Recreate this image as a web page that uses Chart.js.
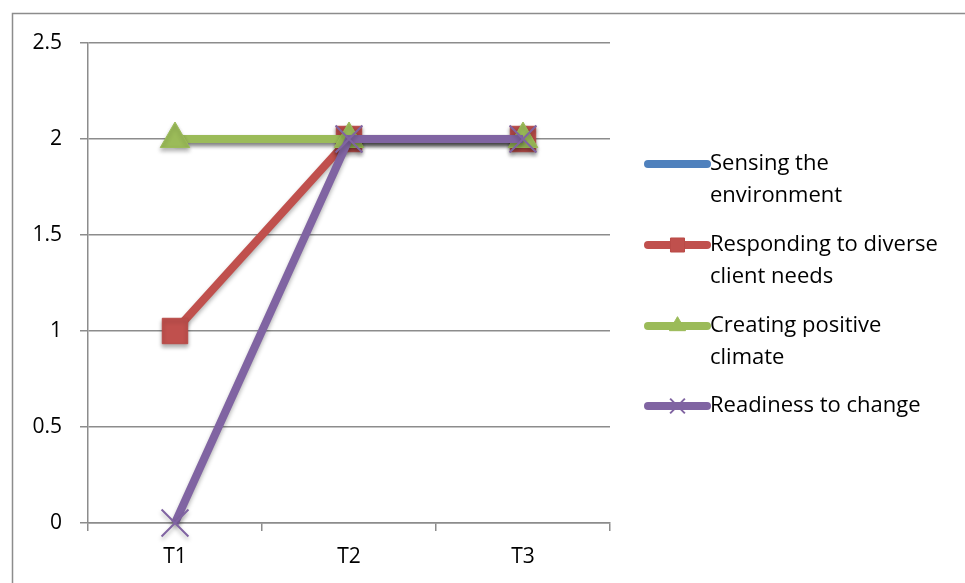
<!DOCTYPE html>
<html>
<head>
<meta charset="utf-8">
<script src="https://cdn.jsdelivr.net/npm/chart.js@4/dist/chart.umd.min.js"></script>
<style>
  html, body { margin: 0; padding: 0; background: #fff; }
  #wrap { position: relative; width: 965px; height: 583px; }
</style>
</head>
<body>
<div id="wrap"><canvas id="c" width="965" height="583"></canvas></div>
<script>
// Time points and scores per dimension
const categories = ['T1', 'T2', 'T3'];
const sensingEnv = [2, 2, 2];
const respondingNeeds = [1, 2, 2];
const positiveClimate = [2, 2, 2];
const readinessChange = [0, 2, 2];
const yTicks = [0, 0.5, 1, 1.5, 2, 2.5];

const seriesNames = [
  ['Sensing the', 'environment'],
  ['Responding to diverse', 'client needs'],
  ['Creating positive', 'climate'],
  ['Readiness to change']
];

const FONT = '"Open Sans", "Liberation Sans", sans-serif';
const GRID = '#8c8c8c';

// outer frame around the chart object
const framePlugin = {
  id: 'frame',
  beforeDraw(chart) {
    const ctx = chart.ctx;
    ctx.save();
    ctx.strokeStyle = GRID;
    ctx.lineWidth = 1.5;
    ctx.strokeRect(12.5, 13.5, 1200, 1200);
    ctx.restore();
  }
};

// soft drop shadow under series lines and markers
const shadowPlugin = {
  id: 'shadow',
  beforeDatasetsDraw(chart) {
    const ctx = chart.ctx;
    ctx.save();
    ctx.shadowColor = 'rgba(0,0,0,0.30)';
    ctx.shadowBlur = 4;
    ctx.shadowOffsetX = 0;
    ctx.shadowOffsetY = 3;
  },
  afterDatasetsDraw(chart) {
    chart.ctx.restore();
  }
};

// legend on the right with wrapped labels
const sideLegend = {
  id: 'sideLegend',
  afterDraw(chart) {
    const ctx = chart.ctx;
    const x0 = 648, x1 = 707, tx = 710;
    const firstY = [164, 245, 326, 406];
    const lineGap = 32;
    ctx.save();
    chart.data.datasets.forEach((ds, i) => {
      const y = firstY[i];
      ctx.strokeStyle = ds.borderColor;
      ctx.lineWidth = 8;
      ctx.lineCap = 'round';
      ctx.beginPath();
      ctx.moveTo(x0, y);
      ctx.lineTo(x1, y);
      ctx.stroke();
      if (ds.pointStyle && ds.pointRadius > 0) {
        ctx.fillStyle = ds.pointBackgroundColor;
        ctx.strokeStyle = ds.pointBorderColor;
        ctx.lineWidth = ds.pointBorderWidth;
        ctx.lineCap = 'butt';
        Chart.helpers.drawPoint(ctx, {
          pointStyle: ds.pointStyle,
          radius: ds.pointRadius * 0.55,
          rotation: 0,
          borderWidth: ds.pointBorderWidth
        }, (x0 + x1) / 2, y);
      }
      ctx.fillStyle = '#000';
      ctx.font = '22px ' + FONT;
      ctx.textAlign = 'left';
      ctx.textBaseline = 'middle';
      seriesNames[i].forEach((t, k) => ctx.fillText(t, tx, y + k * lineGap));
    });
    ctx.restore();
  }
};

new Chart(document.getElementById('c'), {
  type: 'line',
  data: {
    labels: categories,
    datasets: [
      {
        label: seriesNames[0].join(' '),
        data: sensingEnv,
        borderColor: '#4F81BD',
        backgroundColor: '#4F81BD',
        borderWidth: 8,
        pointRadius: 0,
        pointStyle: false,
        order: 4
      },
      {
        label: seriesNames[1].join(' '),
        data: respondingNeeds,
        borderColor: '#C0504D',
        backgroundColor: '#C0504D',
        pointBackgroundColor: '#C0504D',
        pointBorderColor: '#B94A47',
        pointBorderWidth: 1,
        borderWidth: 8,
        pointStyle: 'rect',
        pointRadius: 18,
        pointHoverRadius: 18,
        order: 3
      },
      {
        label: seriesNames[2].join(' '),
        data: positiveClimate,
        borderColor: '#9BBB59',
        backgroundColor: '#9BBB59',
        pointBackgroundColor: '#9BBB59',
        pointBorderColor: '#9BBB59',
        pointBorderWidth: 1,
        borderWidth: 8,
        pointStyle: 'triangle',
        pointRadius: 17,
        pointHoverRadius: 17,
        order: 2
      },
      {
        label: seriesNames[3].join(' '),
        data: readinessChange,
        borderColor: '#8064A2',
        backgroundColor: '#8064A2',
        pointBackgroundColor: '#8064A2',
        pointBorderColor: '#8064A2',
        pointBorderWidth: 2,
        borderWidth: 8,
        pointStyle: 'crossRot',
        pointRadius: 19,
        pointHoverRadius: 19,
        order: 1
      }
    ]
  },
  options: {
    responsive: false,
    animation: false,
    clip: false,
    layout: { padding: { left: 0, right: 355, top: 43, bottom: 0 } },
    plugins: {
      legend: { display: false },
      tooltip: { enabled: false }
    },
    scales: {
      x: {
        offset: true,
        grid: {
          offset: true,
          drawOnChartArea: false,
          drawTicks: true,
          tickLength: 8,
          color: GRID,
          lineWidth: 1.5
        },
        border: { display: true, color: GRID, width: 1.5 },
        ticks: {
          color: '#000',
          font: { family: FONT, size: 21 },
          padding: 13
        },
        afterFit(s) { s.height = 60; }
      },
      y: {
        min: 0,
        max: 2.5,
        afterBuildTicks(s) { s.ticks = yTicks.map(v => ({ value: v })); },
        grid: {
          color: GRID,
          lineWidth: 1.5,
          drawTicks: true,
          tickLength: 8
        },
        border: { display: true, color: GRID, width: 1.5 },
        ticks: {
          color: '#000',
          font: { family: FONT, size: 21 },
          padding: 18,
          callback: v => String(v)
        },
        afterFit(s) { s.width = 88; }
      }
    }
  },
  plugins: [framePlugin, shadowPlugin, sideLegend]
});
</script>
</body>
</html>
